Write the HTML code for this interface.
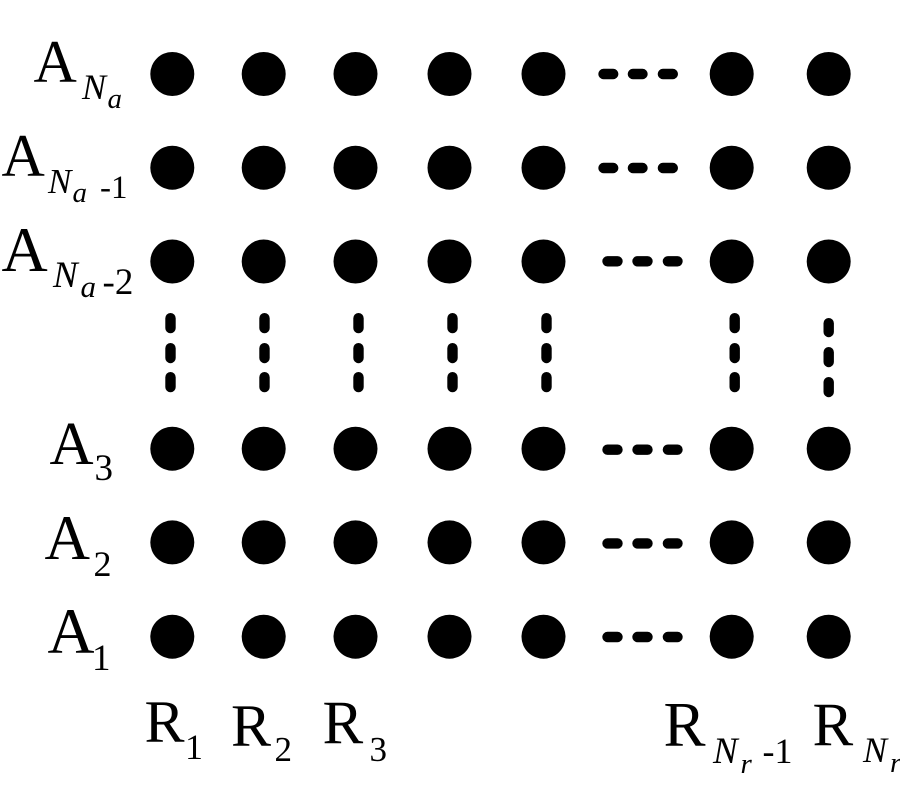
<!DOCTYPE html>
<html>
<head>
<meta charset="utf-8">
<style>
html,body{margin:0;padding:0;background:#fff;width:900px;height:800px;overflow:hidden}
svg{display:block}
text{font-family:"Liberation Serif",serif;fill:#000}
.i{font-style:italic}
</style>
</head>
<body>
<svg width="900" height="800" viewBox="0 0 900 800" xmlns="http://www.w3.org/2000/svg">
<g fill="#000">
<circle cx="172.3" cy="74" r="22"/><circle cx="263.7" cy="74" r="22"/><circle cx="355.5" cy="74" r="22"/><circle cx="449.5" cy="74" r="22"/><circle cx="543.5" cy="74" r="22"/><circle cx="731.7" cy="74" r="22"/><circle cx="828.7" cy="74" r="22"/>
<circle cx="172.3" cy="167.7" r="22"/><circle cx="263.7" cy="167.7" r="22"/><circle cx="355.5" cy="167.7" r="22"/><circle cx="449.5" cy="167.7" r="22"/><circle cx="543.5" cy="167.7" r="22"/><circle cx="731.7" cy="167.7" r="22"/><circle cx="828.7" cy="167.7" r="22"/>
<circle cx="172.3" cy="261.5" r="22"/><circle cx="263.7" cy="261.5" r="22"/><circle cx="355.5" cy="261.5" r="22"/><circle cx="449.5" cy="261.5" r="22"/><circle cx="543.5" cy="261.5" r="22"/><circle cx="731.7" cy="261.5" r="22"/><circle cx="828.7" cy="261.5" r="22"/>
<circle cx="172.3" cy="448.7" r="22"/><circle cx="263.7" cy="448.7" r="22"/><circle cx="355.5" cy="448.7" r="22"/><circle cx="449.5" cy="448.7" r="22"/><circle cx="543.5" cy="448.7" r="22"/><circle cx="731.7" cy="448.7" r="22"/><circle cx="828.7" cy="448.7" r="22"/>
<circle cx="172.3" cy="542.4" r="22"/><circle cx="263.7" cy="542.4" r="22"/><circle cx="355.5" cy="542.4" r="22"/><circle cx="449.5" cy="542.4" r="22"/><circle cx="543.5" cy="542.4" r="22"/><circle cx="731.7" cy="542.4" r="22"/><circle cx="828.7" cy="542.4" r="22"/>
<circle cx="172.3" cy="636.7" r="22"/><circle cx="263.7" cy="636.7" r="22"/><circle cx="355.5" cy="636.7" r="22"/><circle cx="449.5" cy="636.7" r="22"/><circle cx="543.5" cy="636.7" r="22"/><circle cx="731.7" cy="636.7" r="22"/><circle cx="828.7" cy="636.7" r="22"/>
</g>
<g stroke="#000" stroke-width="10.4" stroke-linecap="round" fill="none">
<path d="M603.5 74H613.2M632.9 74H642.5M662.9 74H672.8"/>
<path d="M603.5 168H613.2M632.9 168H642.5M662.9 168H672.8"/>
<path d="M607.5 261.3H617.5M637.5 261.3H647.5M667.9 261.3H677.5"/>
<path d="M607.5 449.7H617.5M637.5 449.7H647.5M667.9 449.7H677.5"/>
<path d="M607.5 543.4H617.5M637.5 543.4H647.5M667.9 543.4H677.5"/>
<path d="M607.5 637H617.5M637.5 637H647.5M667.9 637H677.5"/>
<path d="M170.5 318.2V328.1M170.5 348.2V358M170.5 377.2V387.1"/>
<path d="M264.5 318.2V328.1M264.5 348.2V358M264.5 377.2V387.1"/>
<path d="M358.5 318.2V328.1M358.5 348.2V358M358.5 377.2V387.1"/>
<path d="M452.5 318.2V328.1M452.5 348.2V358M452.5 377.2V387.1"/>
<path d="M546.5 318.2V328.1M546.5 348.2V358M546.5 377.2V387.1"/>
<path d="M734.7 318.2V328.1M734.7 348.2V358M734.7 377.2V387.1"/>
<path d="M828.7 323.2V332M828.7 352.2V362M828.7 382.2V392"/>
</g>
<text font-size="60" x="33.5" y="82">A</text>
<text class="i" font-size="36" x="82" y="99">N</text><text class="i" font-size="29" x="107.5" y="108">a</text>

<text font-size="60" x="1.5" y="176">A</text>
<text class="i" font-size="35" x="48" y="193">N</text><text class="i" font-size="29" x="72.5" y="202">a</text><text font-size="33" x="100" y="198">-1</text>

<text font-size="64" x="1.5" y="271">A</text>
<text class="i" font-size="37" x="53" y="287">N</text><text class="i" font-size="31" x="80.5" y="297">a</text><text font-size="37" x="102.5" y="294">-2</text>

<text font-size="61" x="49.5" y="464">A</text><text font-size="37" x="94.5" y="480">3</text>
<text font-size="63" x="44.5" y="559">A</text><text font-size="36" x="93.5" y="576">2</text>
<text font-size="65" x="47.5" y="653">A</text><text font-size="37" x="92" y="670">1</text>

<text font-size="60" x="144.5" y="742">R</text><text font-size="36" x="185" y="759">1</text>
<text font-size="60" x="231" y="746">R</text><text font-size="35" x="274.5" y="761">2</text>
<text font-size="61" x="322.5" y="743">R</text><text font-size="35" x="369.5" y="761">3</text>

<text font-size="63" x="663.5" y="746">R</text>
<text class="i" font-size="37" x="713" y="763">N</text><text class="i" font-size="29" x="740.5" y="773">r</text><text font-size="36" x="762.5" y="763">-1</text>

<text font-size="61" x="812.5" y="745">R</text>
<text class="i" font-size="36" x="863" y="762">N</text><text class="i" font-size="29" x="890" y="772">r</text>
</svg>
</body>
</html>
